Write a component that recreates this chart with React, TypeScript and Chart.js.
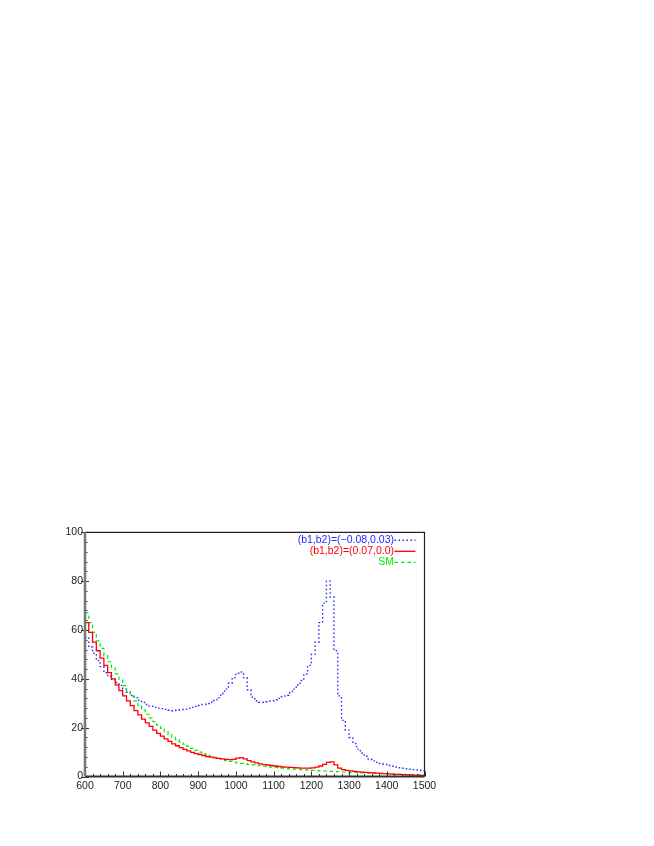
import React, { useEffect, useRef } from "react";
import { Chart, registerables } from "chart.js";

Chart.register(...registerables);

const X_MIN = 600;
const X_MAX = 1500;
const Y_MIN = 0;
const Y_MAX = 100;

const binWidth = 10;

// (b1,b2)=(-0.08,0.03): 10 GeV bins from 600
const blueValues = [
  57, 53, 50.5, 47.5, 45, 42.5, 41, 39.8, 38.5, 37.3,
  35.8, 34.5, 33.2, 32.2, 31.2, 30.3, 29.5, 28.8, 28.3, 28,
  27.8, 27.5, 27.1, 26.9, 27.1, 27.4, 27.6, 27.9, 28.3, 28.7,
  29.1, 29.5, 29.9, 30.4, 31.1, 32.3, 34, 35.8, 38.2, 40.5,
  42.3, 42.8, 40.5, 35.5, 32.5, 31, 30.4, 30.4, 30.6, 30.9,
  31.4, 32, 32.6, 33.3, 34.3, 35.8, 37.5, 39.3, 42, 45.5,
  50, 55, 63, 71, 80, 73.5, 51.5, 33, 23, 19,
  16, 13.5, 11.2, 9.6, 8.3, 7.2, 6.4, 5.8, 5.3, 4.9,
  4.5, 4.2, 3.9, 3.6, 3.4, 3.2, 3.0, 2.8, 2.6, 2.3,
];

// (b1,b2)=(0.07,0.0): 10 GeV bins from 600
const redValues = [
  63, 59, 55, 51.5, 48.5, 45.5, 42.5, 40, 37.5, 35.2,
  33, 31, 29, 27, 25.2, 23.5, 22, 20.5, 19, 17.7,
  16.5, 15.4, 14.4, 13.4, 12.6, 11.8, 11.1, 10.5, 9.9, 9.4,
  9.0, 8.6, 8.2, 7.9, 7.6, 7.4, 7.2, 7.0, 6.9, 7.0,
  7.5, 7.7, 7.2, 6.5, 6.0, 5.6, 5.2, 4.9, 4.7, 4.5,
  4.3, 4.1, 3.9, 3.8, 3.7, 3.6, 3.5, 3.4, 3.4, 3.4,
  3.5, 3.8, 4.3, 5.0, 5.8, 6.0, 4.8, 3.4, 2.8, 2.5,
  2.3, 2.1, 1.9, 1.8, 1.7, 1.6, 1.5, 1.4, 1.3, 1.2,
  1.1, 1.0, 0.9, 0.85, 0.8, 0.7, 0.65, 0.6, 0.55, 0.5,
];

// SM: 10 GeV bins from 600
const smValues = [
  67, 63, 59, 55.5, 52.5, 49.5, 47, 44.5, 42, 39.5,
  37.2, 35, 33, 31, 29, 27.2, 25.5, 24, 22.5, 21,
  19.7, 18.4, 17.2, 16.1, 15.1, 14.1, 13.2, 12.3, 11.5, 10.7,
  10.0, 9.4, 8.8, 8.3, 7.8, 7.3, 6.9, 6.5, 6.2, 5.9,
  5.6, 5.4, 5.2, 5.0, 4.8, 4.6, 4.4, 4.2, 4.0, 3.85,
  3.7, 3.55, 3.4, 3.25, 3.1, 3.0, 2.9, 2.8, 2.7, 2.6,
  2.5, 2.4, 2.3, 2.25, 2.2, 2.1, 2.0, 1.95, 1.85, 1.8,
  1.7, 1.65, 1.6, 1.5, 1.45, 1.4, 1.3, 1.25, 1.2, 1.15,
  1.1, 1.0, 0.95, 0.9, 0.85, 0.8, 0.75, 0.7, 0.65, 0.6,
];

const xTickValues = [600, 700, 800, 900, 1000, 1100, 1200, 1300, 1400, 1500];
const yTickValues = [0, 20, 40, 60, 80, 100];
const xMinorStep = 20;
const yMinorStep = 4;

const legendLabels = ["(b1,b2)=(\u22120.08,0.03)", "(b1,b2)=(0.07,0.0)", "SM"];
const BLUE = "rgb(40,40,255)";
const RED = "rgb(255,0,0)";
const GREEN = "rgb(0,235,0)";

const FONT = '"Liberation Sans", Arial, Helvetica, sans-serif';

function toSteps(values: number[], start: number, width: number) {
  const pts = values.map((v, i) => ({ x: start + i * width, y: v }));
  pts.push({ x: start + values.length * width, y: values[values.length - 1] });
  return pts;
}

const framePlugin = {
  id: "frameTicks",
  afterDatasetsDraw(chart: any) {
    const { ctx, chartArea, scales } = chart;
    const { left, right, top, bottom } = chartArea;
    const xs = scales.x;
    const ys = scales.y;
    ctx.save();
    ctx.strokeStyle = "#333";
    ctx.lineWidth = 1;
    ctx.beginPath();
    for (let v = Y_MIN; v <= Y_MAX + 1e-9; v += yMinorStep) {
      const py = Math.round(ys.getPixelForValue(v)) + 0.5;
      const major = yTickValues.includes(v);
      ctx.moveTo(left - (major ? 4 : 0), py);
      ctx.lineTo(left + (major ? 4 : 2.5), py);
    }
    for (let v = X_MIN; v <= X_MAX + 1e-9; v += xMinorStep) {
      const px = Math.round(xs.getPixelForValue(v)) + 0.5;
      const major = xTickValues.includes(v);
      ctx.moveTo(px, bottom);
      ctx.lineTo(px, bottom - (major ? 5 : 2.5));
    }
    ctx.stroke();
    ctx.strokeStyle = "#222";
    ctx.lineWidth = 1.2;
    ctx.beginPath();
    ctx.moveTo(left, top);
    ctx.lineTo(right, top);
    ctx.lineTo(right, bottom);
    ctx.stroke();
    ctx.strokeStyle = "#333";
    ctx.lineWidth = 2;
    ctx.beginPath();
    ctx.moveTo(left, bottom);
    ctx.lineTo(right, bottom);
    ctx.stroke();
    ctx.strokeStyle = "#777";
    ctx.lineWidth = 2.5;
    ctx.beginPath();
    ctx.moveTo(left, top);
    ctx.lineTo(left, bottom);
    ctx.stroke();

    ctx.font = `10.5px ${FONT}`;
    ctx.textAlign = "right";
    ctx.textBaseline = "middle";
    const rows = [
      { color: BLUE, dash: [1.5, 2.5], width: 1.4 },
      { color: RED, dash: [], width: 1.3 },
      { color: GREEN, dash: [3.5, 3], width: 1.2 },
    ];
    rows.forEach((r, i) => {
      const yy = top + 7.5 + i * 11;
      ctx.fillStyle = r.color;
      ctx.fillText(legendLabels[i], right - 30.5, yy + 0.5);
      ctx.strokeStyle = r.color;
      ctx.lineWidth = r.width;
      ctx.setLineDash(r.dash);
      ctx.beginPath();
      ctx.moveTo(right - 30, yy + 0.5);
      ctx.lineTo(right - 9, yy + 0.5);
      ctx.stroke();
    });
    ctx.setLineDash([]);
    ctx.restore();
  },
};

export default function App() {
  const ref = useRef<HTMLCanvasElement | null>(null);
  useEffect(() => {
    if (!ref.current) return;
    const chart = new Chart(ref.current, {
      type: "line",
      data: {
        datasets: [
          {
            label: legendLabels[1],
            data: toSteps(redValues, X_MIN, binWidth),
            borderColor: RED,
            borderWidth: 1.3,
            stepped: "before",
            pointRadius: 0,
            fill: false,
          },
          {
            label: legendLabels[2],
            data: toSteps(smValues, X_MIN, binWidth),
            borderColor: GREEN,
            borderWidth: 1.2,
            borderDash: [3.5, 3],
            stepped: "before",
            pointRadius: 0,
            fill: false,
          },
          {
            label: legendLabels[0],
            data: toSteps(blueValues, X_MIN, binWidth),
            borderColor: BLUE,
            borderWidth: 1.4,
            borderDash: [1.5, 2.5],
            stepped: "before",
            pointRadius: 0,
            fill: false,
          },
        ],
      },
      options: {
        responsive: false,
        animation: false,
        devicePixelRatio: 1,
        layout: { padding: { left: 47, right: 221.5, top: 524.3, bottom: 41.5 } },
        plugins: { legend: { display: false }, tooltip: { enabled: false } },
        scales: {
          x: {
            type: "linear",
            min: X_MIN,
            max: X_MAX,
            afterFit: (s: any) => { s.height = 20; },
            afterBuildTicks: (s: any) => { s.ticks = xTickValues.map((v) => ({ value: v })); },
            grid: { display: false, drawTicks: false },
            border: { display: false },
            ticks: {
              autoSkip: false,
              maxRotation: 0,
              padding: 3,
              color: "#222",
              font: { family: FONT, size: 10.5 },
              callback: (v: any) => String(v),
            },
          },
          y: {
            type: "linear",
            min: Y_MIN,
            max: Y_MAX,
            afterFit: (s: any) => { s.width = 30; },
            afterBuildTicks: (s: any) => { s.ticks = yTickValues.map((v) => ({ value: v })); },
            grid: { display: false, drawTicks: false },
            border: { display: false },
            ticks: {
              padding: 2,
              color: "#222",
              font: { family: FONT, size: 10.5 },
              callback: (v: any) => String(v),
            },
          },
        },
      },
      plugins: [framePlugin],
    } as any);
    return () => chart.destroy();
  }, []);
  return (
    <canvas
      ref={ref}
      width={638}
      height={830}
      style={{ display: "block", width: 638, height: 830 }}
    />
  );
}
